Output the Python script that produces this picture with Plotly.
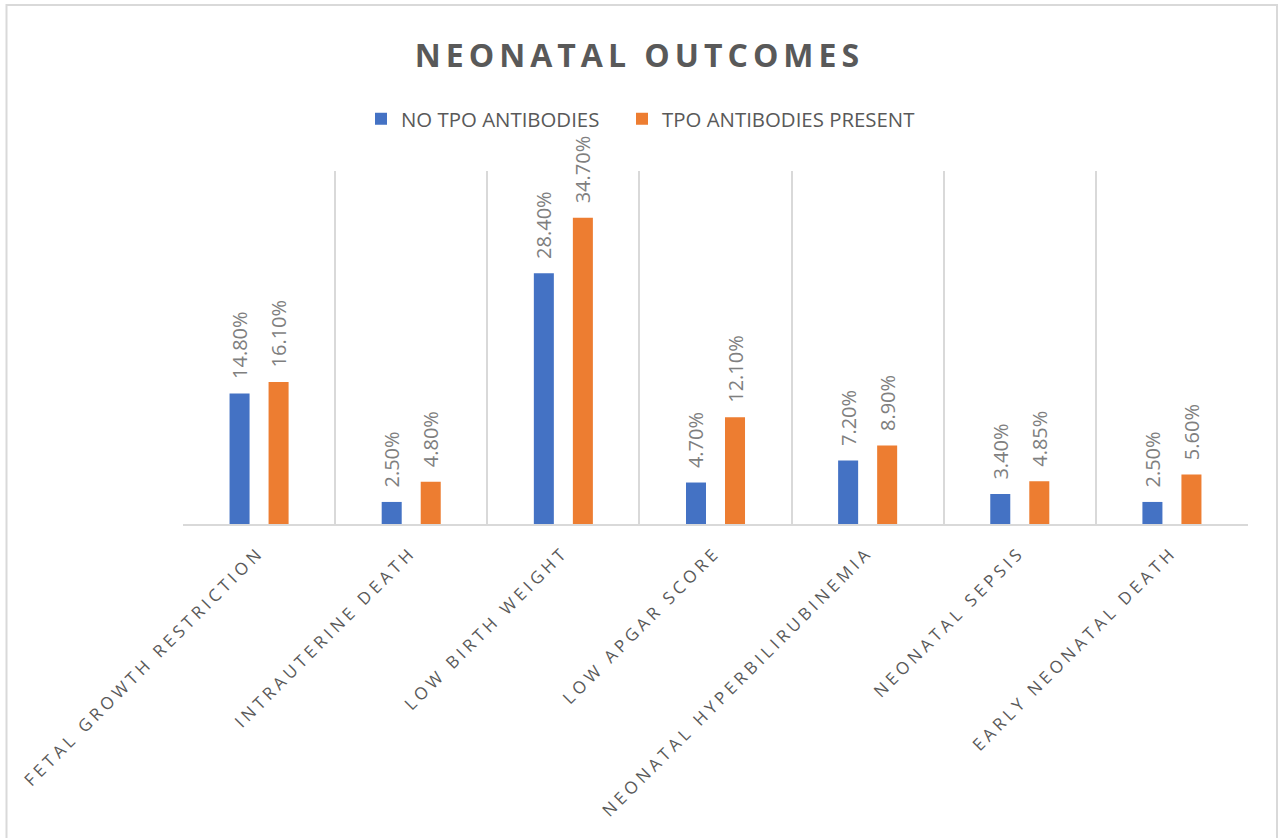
import plotly.graph_objects as go

# Neonatal outcomes by thyroid peroxidase antibody status (%)
categories = [
    "FETAL GROWTH RESTRICTION",
    "INTRAUTERINE DEATH",
    "LOW BIRTH WEIGHT",
    "LOW APGAR SCORE",
    "NEONATAL HYPERBILIRUBINEMIA",
    "NEONATAL SEPSIS",
    "EARLY NEONATAL DEATH",
]
no_tpo = [14.80, 2.50, 28.40, 4.70, 7.20, 3.40, 2.50]
tpo_present = [16.10, 4.80, 34.70, 12.10, 8.90, 4.85, 5.60]
series_names = ["NO TPO ANTIBODIES", "TPO ANTIBODIES PRESENT"]
series_colors = ["#4472C4", "#ED7D31"]
legend_ids = ["legend", "legend2"]

FONT = "Open Sans"
L, R, T, B = 183, 36, 171, 314
PW = 1284 - L - R
PH = 838 - T - B


def px_x(x):
    return (x - L) / PW


def px_y(y):
    return (838 - B - y) / PH


fig = go.Figure()
for name, vals, color, lg in zip(series_names, [no_tpo, tpo_present], series_colors, legend_ids):
    fig.add_trace(go.Bar(
        x=categories,
        y=vals,
        name=name,
        legend=lg,
        marker=dict(color=color, line=dict(width=0)),
        text=[f"\u2007{v:.2f}%" for v in vals],
        textposition="outside",
        textangle=-90,
        constraintext="none",
        textfont=dict(family=FONT, size=20, color="#7f7f7f"),
        cliponaxis=False,
    ))

legend_style = dict(
    orientation="h",
    xanchor="left",
    y=px_y(119), yanchor="middle",
    font=dict(family=FONT, size=20.4, color="#595959"),
    itemwidth=30,
    bgcolor="rgba(0,0,0,0)",
)

fig.update_layout(
    width=1284,
    height=838,
    autosize=False,
    margin=dict(l=L, r=R, t=T, b=B),
    paper_bgcolor="white",
    plot_bgcolor="white",
    barmode="group",
    bargap=0.487,
    bargroupgap=0.487,
    title=dict(
        text="<b>NEONATAL OUTCOMES</b>",
        x=0.498, xanchor="center",
        y=0.934, yanchor="middle",
        font=dict(family=FONT, size=32, color="#595959"),
    ),
    legend=dict(x=px_x(361), **legend_style),
    legend2=dict(x=px_x(622), **legend_style),
    showlegend=True,
)

fig.update_xaxes(
    type="category",
    tickson="boundaries",
    showgrid=True,
    gridcolor="#d9d9d9",
    gridwidth=1.5,
    showline=True,
    linecolor="#d9d9d9",
    linewidth=1.5,
    ticks="",
    tickangle=-45,
    tickfont=dict(family=FONT, size=17, color="#595959"),
    ticklabelshift=0,
    ticklabelstandoff=10,
    automargin=False,
)
fig.update_yaxes(
    range=[0, 40],
    visible=False,
    showgrid=False,
    zeroline=False,
)

# outer chart border
fig.add_shape(
    type="rect",
    xref="paper", yref="paper",
    x0=px_x(6.5), x1=px_x(1277),
    y0=px_y(860), y1=px_y(5),
    line=dict(color="#d9d9d9", width=2),
    fillcolor="rgba(0,0,0,0)",
    layer="below",
)

# widen character spacing of the title and category labels
spacing_js = """
var gd = document.getElementById('{plot_id}');
function spaceText() {
  gd.querySelectorAll('.xtick text').forEach(function (t) { t.style.letterSpacing = '4px'; });
  gd.querySelectorAll('.gtitle').forEach(function (t) { t.style.letterSpacing = '5px'; });
}
spaceText();
gd.on('plotly_afterplot', spaceText);
"""

fig.write_html("out.html", post_script=spacing_js)
